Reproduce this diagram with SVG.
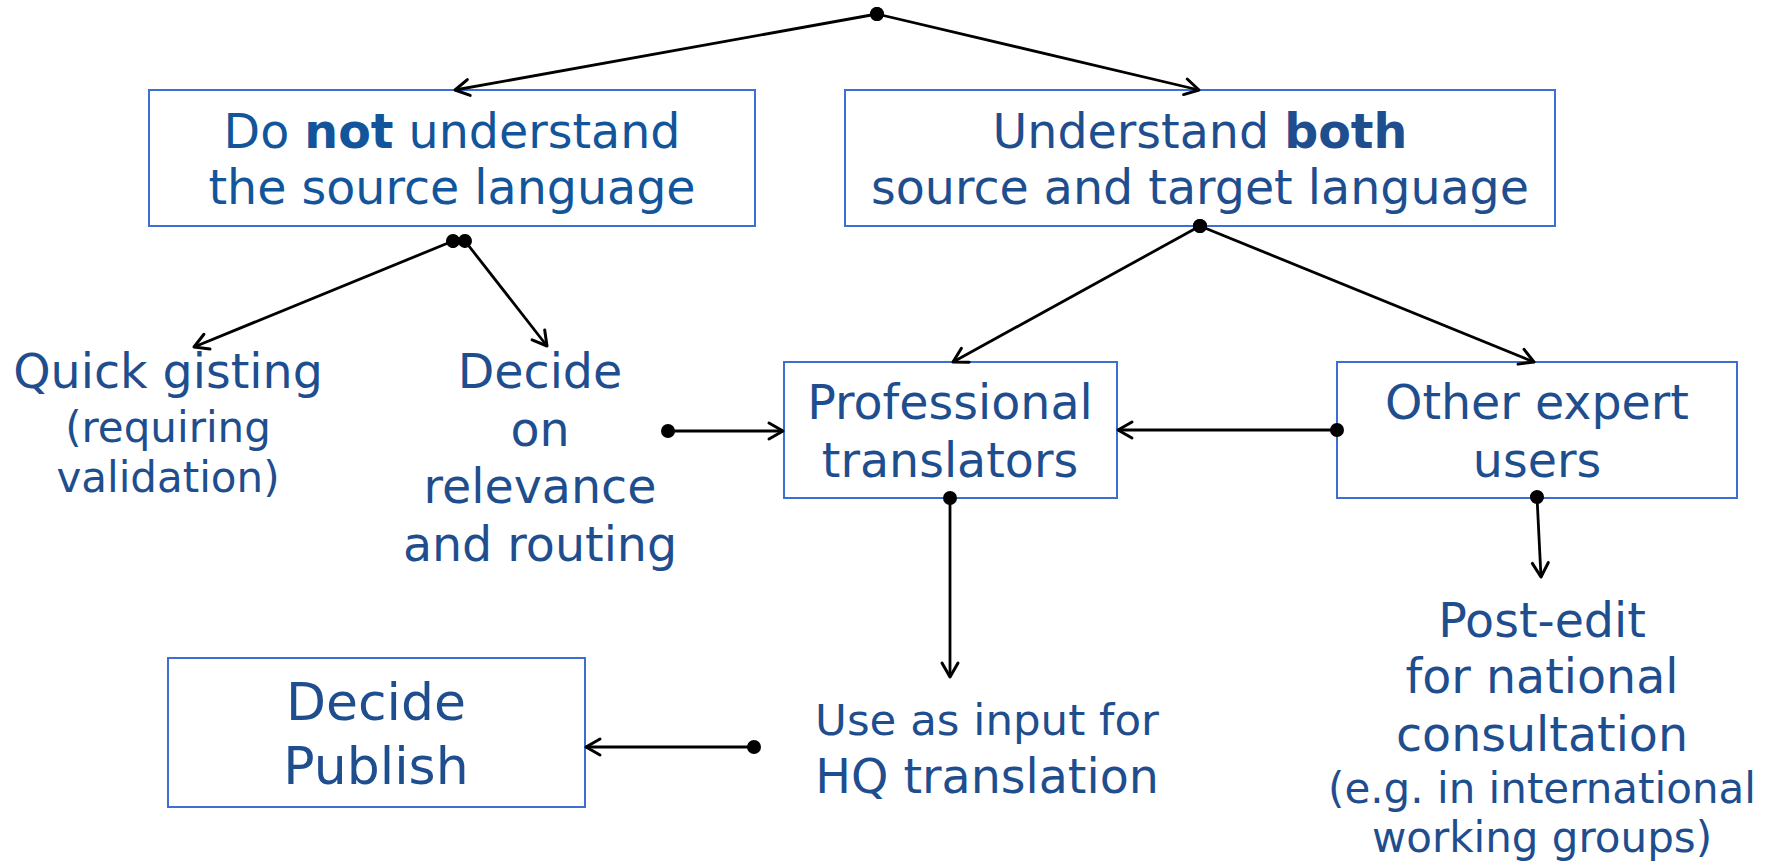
<svg xmlns="http://www.w3.org/2000/svg" width="1778" height="863" viewBox="0 0 1778 863">
<style>
.box{fill:#ffffff;stroke:#3d6fd2;stroke-width:2}
.t{font-family:"DejaVu Sans",Verdana,sans-serif;fill:#1f4e8f;text-anchor:middle;font-size:47.5px}
.t2{fill:#13559a}
.s{font-size:42px}
.m{font-size:43.5px}
.l{font-size:52px}
.c{stroke:#000;stroke-width:2.8;fill:none;marker-start:url(#dot);marker-end:url(#arr)}
</style>
<defs>
<marker id="arr" markerUnits="userSpaceOnUse" viewBox="-20 -12 24 24" refX="0" refY="0" markerWidth="24" markerHeight="24" orient="auto">
<path d="M-14,-8 L0,0 L-14,8" fill="none" stroke="#000" stroke-width="3" stroke-linecap="round" stroke-linejoin="round"/>
</marker>
<marker id="dot" markerUnits="userSpaceOnUse" viewBox="-8 -8 16 16" refX="0" refY="0" markerWidth="16" markerHeight="16" orient="auto">
<circle cx="0" cy="0" r="7" fill="#000"/>
</marker>
</defs>
<rect width="1778" height="863" fill="#ffffff"/>
<g id="n-not">
<rect class="box" x="149" y="90" width="606" height="136"/>
<text class="t t2" x="452" y="148">Do <tspan font-weight="bold">not</tspan> understand</text>
<text class="t t2" x="452" y="204">the source language</text>
</g>
<g id="n-both">
<rect class="box" x="845" y="90" width="710" height="136"/>
<text class="t" x="1200" y="148">Understand <tspan font-weight="bold">both</tspan></text>
<text class="t" x="1200" y="204">source and target language</text>
</g>
<g id="n-gist">
<text class="t" x="168" y="388">Quick gisting</text>
<text class="t s" x="168" y="442">(requiring</text>
<text class="t s" x="168" y="492">validation)</text>
</g>
<g id="n-decide">
<text class="t" x="540" y="388">Decide</text>
<text class="t" x="540" y="446">on</text>
<text class="t" x="540" y="503">relevance</text>
<text class="t" x="540" y="561">and routing</text>
</g>
<g id="n-prof">
<rect class="box" x="784" y="362" width="333" height="136"/>
<text class="t" x="950" y="419">Professional</text>
<text class="t" x="950" y="477">translators</text>
</g>
<g id="n-other">
<rect class="box" x="1337" y="362" width="400" height="136"/>
<text class="t" x="1537" y="419">Other expert</text>
<text class="t" x="1537" y="477">users</text>
</g>
<g id="n-hq">
<text class="t m" x="987" y="735">Use as input for</text>
<text class="t" x="987" y="793">HQ translation</text>
</g>
<g id="n-post">
<text class="t" x="1542" y="637">Post-edit</text>
<text class="t" x="1542" y="693">for national</text>
<text class="t" x="1542" y="751">consultation</text>
<text class="t s" x="1542" y="803">(e.g. in international</text>
<text class="t s" x="1542" y="852">working groups)</text>
</g>
<g id="n-publish">
<rect class="box" x="168" y="658" width="417" height="149"/>
<text class="t l" x="376" y="720">Decide</text>
<text class="t l" x="376" y="784">Publish</text>
</g>
<g id="connectors">
<path class="c" d="M877,14 L455,90"/>
<path class="c" d="M877,14 L1199,90"/>
<path class="c" d="M453,241 L194,347"/>
<path class="c" d="M465,241 L547,346"/>
<path class="c" d="M668,431 L783,431"/>
<path class="c" d="M1200,226 L953,362"/>
<path class="c" d="M1200,226 L1534,362"/>
<path class="c" d="M1337,430 L1118,430"/>
<path class="c" d="M950,498 L950,677"/>
<path class="c" d="M1537,497 L1541,577"/>
<path class="c" d="M754,747 L586,747"/>
</g>
</svg>
